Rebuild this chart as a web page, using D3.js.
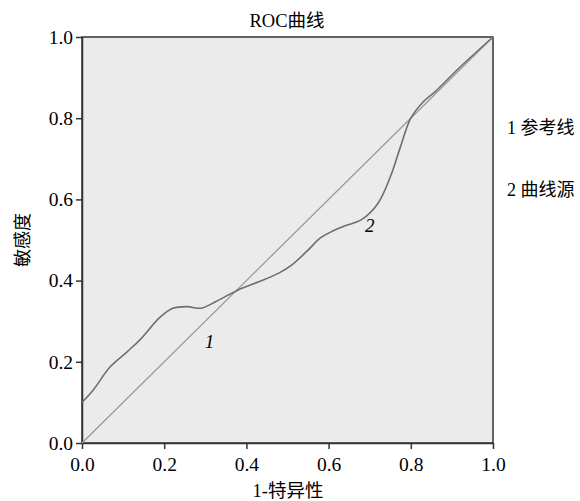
<!DOCTYPE html>
<html>
<head>
<meta charset="utf-8">
<script src="https://cdn.jsdelivr.net/npm/d3@7"></script>
<style>
  body { margin: 0; background: #fff; }
  text { font-family: "Liberation Serif", "Noto Sans CJK SC", serif; fill: #000; }
</style>
</head>
<body>
<svg width="580" height="501"></svg>
<script>
const fpr = [0, 0.027, 0.068, 0.109, 0.141, 0.19, 0.221, 0.255, 0.29, 0.325, 0.38, 0.43, 0.48, 0.51, 0.55, 0.58, 0.61, 0.64, 0.68, 0.72, 0.75, 0.775, 0.80, 0.83, 0.86, 0.92, 1];
const tpr = [0.10, 0.13, 0.187, 0.224, 0.254, 0.31, 0.332, 0.336, 0.332, 0.348, 0.377, 0.397, 0.419, 0.438, 0.475, 0.505, 0.522, 0.535, 0.55, 0.59, 0.655, 0.73, 0.80, 0.84, 0.866, 0.926, 1];
const refLine = [[0, 0], [1, 1]];
const ticks = [0, 0.2, 0.4, 0.6, 0.8, 1.0];
const legendItems = ['1 参考线', '2 曲线源'];
const title = 'ROC曲线';
const xTitle = '1-特异性';
const yTitle = '敏感度';

const svg = d3.select('svg');
const x = d3.scaleLinear().domain([0, 1]).range([82, 493]);
const y = d3.scaleLinear().domain([0, 1]).range([443, 37]);

svg.append('rect')
  .attr('x', x(0)).attr('y', y(1))
  .attr('width', x(1) - x(0)).attr('height', y(0) - y(1))
  .attr('fill', '#ebebeb')
  .attr('stroke', '#333')
  .attr('stroke-width', 1.5);

const xAxis = svg.append('g')
  .attr('transform', `translate(0,${y(0)})`)
  .call(d3.axisBottom(x).tickValues(ticks).tickFormat(d3.format('.1f')).tickSize(6).tickSizeOuter(0));
const yAxis = svg.append('g')
  .attr('transform', `translate(${x(0)},0)`)
  .call(d3.axisLeft(y).tickValues(ticks).tickFormat(d3.format('.1f')).tickSize(6).tickSizeOuter(0));

for (const ax of [xAxis, yAxis]) {
  ax.select('.domain').attr('stroke', '#333').attr('stroke-width', 1.5);
  ax.selectAll('.tick line').attr('stroke', '#333').attr('stroke-width', 1.5);
  ax.selectAll('.tick text')
    .style('font-family', '"Liberation Serif", serif')
    .style('font-size', '19.5px')
    .attr('fill', '#000');
}
xAxis.selectAll('.tick text').attr('dy', '0.95em');
yAxis.selectAll('.tick text').attr('x', -9);

const line = d3.line().x(d => x(d[0])).y(d => y(d[1]));

svg.append('path')
  .attr('d', line(refLine))
  .attr('fill', 'none')
  .attr('stroke', '#9a9a9a')
  .attr('stroke-width', 1.3);

svg.append('path')
  .attr('d', line.curve(d3.curveCatmullRom.alpha(0.5))(fpr.map((f, i) => [f, tpr[i]])))
  .attr('fill', 'none')
  .attr('stroke', '#6e6e6e')
  .attr('stroke-width', 1.6);

// curve labels
svg.append('text').attr('x', x(0.31)).attr('y', y(0.235))
  .attr('text-anchor', 'middle').attr('font-style', 'italic').attr('font-size', 19).text('1');
svg.append('text').attr('x', x(0.7)).attr('y', y(0.52))
  .attr('text-anchor', 'middle').attr('font-style', 'italic').attr('font-size', 19).text('2');

svg.append('text').attr('x', 287).attr('y', 27)
  .attr('text-anchor', 'middle').attr('font-size', 18.5).text(title);
svg.append('text').attr('x', 288).attr('y', 497)
  .attr('text-anchor', 'middle').attr('font-size', 18.5).text(xTitle);
svg.append('text')
  .attr('transform', `translate(29,${y(0.5)}) rotate(-90)`)
  .attr('text-anchor', 'middle').attr('font-size', 18).text(yTitle);

svg.selectAll('.legend')
  .data(legendItems)
  .join('text')
  .attr('class', 'legend')
  .attr('x', 507)
  .attr('y', (d, i) => 134 + i * 62)
  .attr('font-size', 18)
  .text(d => d);
</script>
</body>
</html>
